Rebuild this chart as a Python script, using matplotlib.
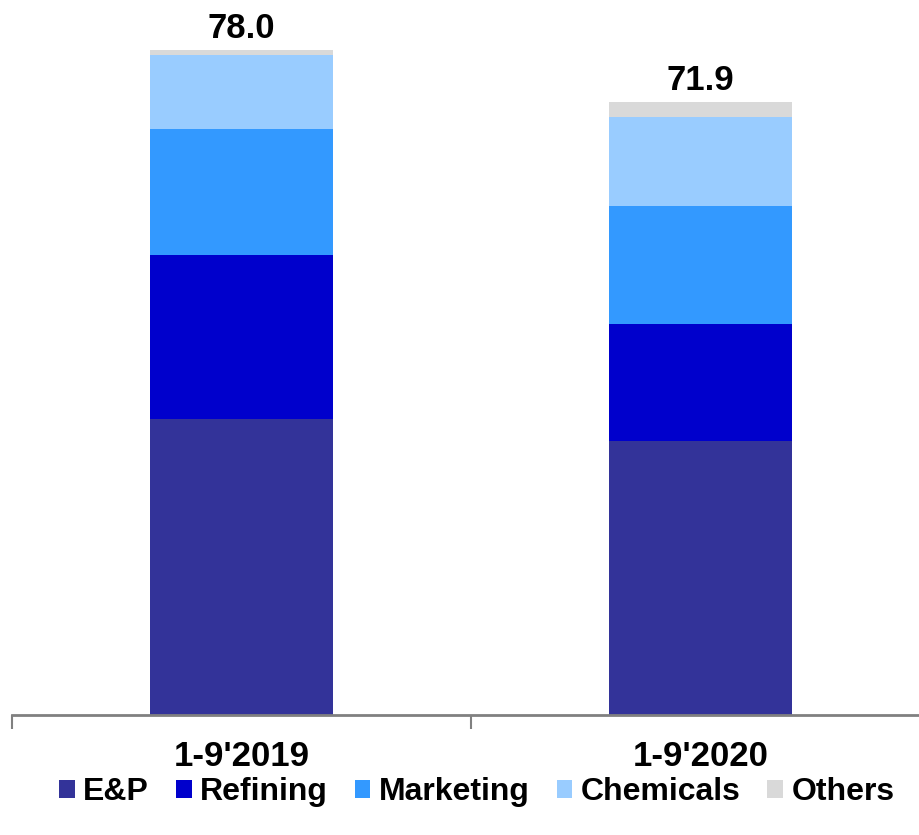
import matplotlib.pyplot as plt
from matplotlib.patches import Patch
from matplotlib.ticker import FixedLocator

plt.rcParams['font.family'] = ['Liberation Sans', 'DejaVu Sans']

# Data
periods = ["1-9'2019", "1-9'2020"]
segments = ["E&P", "Refining", "Marketing", "Chemicals", "Others"]
ep = [34.7, 32.1]
refining = [19.2, 13.7]
marketing = [14.9, 13.9]
chemicals = [8.6, 10.5]
others = [0.6, 1.7]
totals = [78.0, 71.9]

colors = ["#333399", "#0000CC", "#3399FF", "#99CCFF", "#D9D9D9"]

fig = plt.figure(figsize=(9.2, 8.35), dpi=100)
ax = fig.add_axes([12 / 920, 120.5 / 835, 918 / 920, 714.5 / 835])

x = list(range(len(periods)))
bottom = [0.0] * len(periods)
for vals, col in zip([ep, refining, marketing, chemicals, others], colors):
    ax.bar(x, vals, width=0.4, bottom=bottom, color=col, edgecolor="none")
    bottom = [b + v for b, v in zip(bottom, vals)]

# Total labels above the stacks
for xi, t in zip(x, totals):
    ax.text(xi, t + 0.6, f"{t:.1f}", ha="center", va="bottom",
            fontsize=25, fontweight="bold")

ax.set_xlim(-0.5, 1.5)
ax.set_ylim(0, 83.9)

for side in ["top", "right", "left"]:
    ax.spines[side].set_visible(False)
ax.spines["bottom"].set_color("#808080")
ax.spines["bottom"].set_linewidth(2)
ax.set_yticks([])

ax.set_xticks(x)
ax.set_xticklabels(periods, fontsize=25, fontweight="bold")
ax.tick_params(axis="x", which="major", length=0, pad=18)
ax.xaxis.set_minor_locator(FixedLocator([-0.5, 0.5, 1.5]))
ax.tick_params(axis="x", which="minor", length=10, width=1.5, color="#808080")

handles = [Patch(facecolor=c, edgecolor="none") for c in colors]
fig.legend(handles, segments, loc="center", bbox_to_anchor=(0.518, 43 / 835),
           ncol=5, frameon=False, prop={"size": 23, "weight": "bold"},
           handlelength=0.5, handleheight=0.5, handletextpad=0.25,
           columnspacing=0.85, borderaxespad=0)

fig.savefig("out.png", dpi=100)
